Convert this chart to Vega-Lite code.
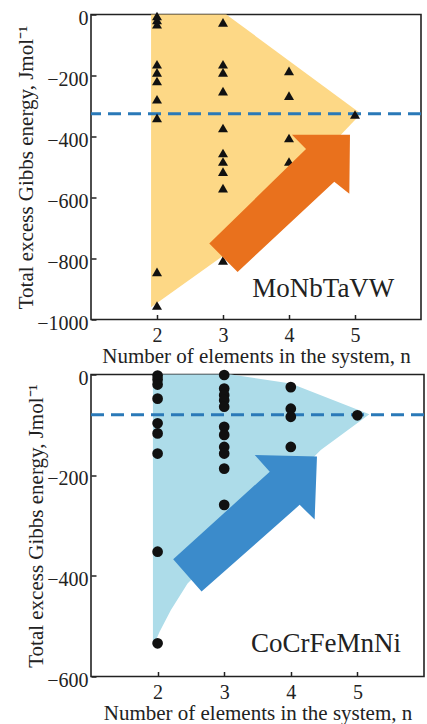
{
  "$schema": "https://vega.github.io/schema/vega-lite/v6.json",
  "padding": {"left": 14, "top": 6.5, "right": 0, "bottom": 0},
  "spacing": -1,
  "datasets": {
    "topPts": [
      {"n": 2, "e": -5}, {"n": 2, "e": -18}, {"n": 2, "e": -32},
      {"n": 2, "e": -163}, {"n": 2, "e": -190}, {"n": 2, "e": -218},
      {"n": 2, "e": -278}, {"n": 2, "e": -339}, {"n": 2, "e": -844}, {"n": 2, "e": -954},
      {"n": 3, "e": -26}, {"n": 3, "e": -163}, {"n": 3, "e": -190}, {"n": 3, "e": -251},
      {"n": 3, "e": -372}, {"n": 3, "e": -454}, {"n": 3, "e": -482}, {"n": 3, "e": -515},
      {"n": 3, "e": -569}, {"n": 3, "e": -806},
      {"n": 4, "e": -185}, {"n": 4, "e": -266}, {"n": 4, "e": -405}, {"n": 4, "e": -482},
      {"n": 5, "e": -328}
    ],
    "botPts": [
      {"n": 2, "e": -2}, {"n": 2, "e": -10}, {"n": 2, "e": -20}, {"n": 2, "e": -48},
      {"n": 2, "e": -97}, {"n": 2, "e": -117}, {"n": 2, "e": -157}, {"n": 2, "e": -352}, {"n": 2, "e": -534},
      {"n": 3, "e": -1}, {"n": 3, "e": -28}, {"n": 3, "e": -41}, {"n": 3, "e": -51}, {"n": 3, "e": -64},
      {"n": 3, "e": -104}, {"n": 3, "e": -120}, {"n": 3, "e": -144}, {"n": 3, "e": -157},
      {"n": 3, "e": -187}, {"n": 3, "e": -259},
      {"n": 4, "e": -25}, {"n": 4, "e": -68}, {"n": 4, "e": -84}, {"n": 4, "e": -144},
      {"n": 5, "e": -81}
    ],
    "topRegion": [
      {"o": 1, "n": 1.91, "e": 0}, {"o": 2, "n": 3.05, "e": 0}, {"o": 3, "n": 5.09, "e": -325},
      {"o": 4, "n": 3.1, "e": -776}, {"o": 5, "n": 1.91, "e": -960}
    ],
    "botRegion": [
      {"o": 1, "n": 1.93, "e": 0}, {"o": 2, "n": 3.1, "e": 0}, {"o": 3, "n": 4.0, "e": -18},
      {"o": 4, "n": 5.18, "e": -79}, {"o": 5, "n": 4.45, "e": -150}, {"o": 6, "n": 2.45, "e": -415},
      {"o": 7, "n": 2.2, "e": -468}, {"o": 8, "n": 2.03, "e": -511}, {"o": 9, "n": 1.95, "e": -535},
      {"o": 10, "n": 1.93, "e": -535}
    ],
    "topArrow": [
      {"o": 1, "n": 2.792, "e": -751}, {"o": 2, "n": 4.258, "e": -441}, {"o": 3, "n": 4.045, "e": -394},
      {"o": 4, "n": 4.924, "e": -394}, {"o": 5, "n": 4.914, "e": -588}, {"o": 6, "n": 4.686, "e": -548},
      {"o": 7, "n": 3.221, "e": -844}
    ],
    "botArrow": [
      {"o": 1, "n": 2.234, "e": -367}, {"o": 2, "n": 3.684, "e": -193}, {"o": 3, "n": 3.459, "e": -160},
      {"o": 4, "n": 4.393, "e": -163}, {"o": 5, "n": 4.358, "e": -288}, {"o": 6, "n": 4.133, "e": -259},
      {"o": 7, "n": 2.66, "e": -431}
    ],
    "topRef": [{"e": -325}],
    "botRef": [{"e": -80}],
    "topLabel": [{"n": 4.52, "e": -927, "t": "MoNbTaVW"}],
    "botLabel": [{"n": 4.53, "e": -551, "t": "CoCrFeMnNi"}]
  },
  "vconcat": [
    {
      "width": 330,
      "height": 305,
      "layer": [
        {
          "data": {"name": "topRegion"},
          "mark": {"type": "line", "interpolate": "linear-closed", "filled": true, "fill": "#FDD886", "stroke": null, "strokeWidth": 0},
          "encoding": {
            "x": {"field": "n", "type": "quantitative"},
            "y": {"field": "e", "type": "quantitative"},
            "order": {"field": "o", "type": "quantitative"}
          }
        },
        {
          "data": {"name": "topRef"},
          "mark": {"type": "rule", "color": "#2A79B8", "strokeWidth": 3, "strokeDash": [13, 7]},
          "encoding": {"y": {"field": "e", "type": "quantitative"}}
        },
        {
          "data": {"name": "topPts"},
          "mark": {"type": "point", "shape": "triangle-up", "filled": true, "color": "#111", "size": 100, "opacity": 1},
          "encoding": {
            "x": {"field": "n", "type": "quantitative"},
            "y": {"field": "e", "type": "quantitative"}
          }
        },
        {
          "data": {"name": "topArrow"},
          "mark": {"type": "line", "interpolate": "linear-closed", "filled": true, "fill": "#E9711D", "stroke": null, "strokeWidth": 0},
          "encoding": {
            "x": {"field": "n", "type": "quantitative"},
            "y": {"field": "e", "type": "quantitative"},
            "order": {"field": "o", "type": "quantitative"}
          }
        },
        {
          "data": {"name": "topLabel"},
          "mark": {"type": "text", "font": "Liberation Serif", "fontSize": 27, "align": "center", "baseline": "alphabetic", "color": "#222"},
          "encoding": {
            "x": {"field": "n", "type": "quantitative"},
            "y": {"field": "e", "type": "quantitative"},
            "text": {"field": "t"}
          }
        }
      ],
      "encoding": {
        "x": {"type": "quantitative", "scale": {"domain": [1, 6], "nice": false},
              "axis": {"values": [2, 3, 4, 5], "format": "d", "labelFont": "Liberation Serif", "titleFont": "Liberation Serif", "title": "Number of elements  in the system,  n"}},
        "y": {"type": "quantitative", "scale": {"domain": [-1000, 0], "nice": false},
              "axis": {"values": [0, -200, -400, -600, -800, -1000], "format": "d", "labelFont": "Liberation Serif", "titleFont": "Liberation Serif", "title": "Total excess Gibbs energy, Jmol⁻¹"}}
      }
    },
    {
      "width": 333,
      "height": 302,
      "layer": [
        {
          "data": {"name": "botRegion"},
          "mark": {"type": "line", "interpolate": "linear-closed", "filled": true, "fill": "#ADDCE9", "stroke": null, "strokeWidth": 0},
          "encoding": {
            "x": {"field": "n", "type": "quantitative"},
            "y": {"field": "e", "type": "quantitative"},
            "order": {"field": "o", "type": "quantitative"}
          }
        },
        {
          "data": {"name": "botRef"},
          "mark": {"type": "rule", "color": "#2A79B8", "strokeWidth": 3, "strokeDash": [13, 7]},
          "encoding": {"y": {"field": "e", "type": "quantitative"}}
        },
        {
          "data": {"name": "botArrow"},
          "mark": {"type": "line", "interpolate": "linear-closed", "filled": true, "fill": "#3B8BCB", "stroke": null, "strokeWidth": 0},
          "encoding": {
            "x": {"field": "n", "type": "quantitative"},
            "y": {"field": "e", "type": "quantitative"},
            "order": {"field": "o", "type": "quantitative"}
          }
        },
        {
          "data": {"name": "botPts"},
          "mark": {"type": "point", "shape": "circle", "filled": true, "color": "#111", "size": 115, "opacity": 1},
          "encoding": {
            "x": {"field": "n", "type": "quantitative"},
            "y": {"field": "e", "type": "quantitative"}
          }
        },
        {
          "data": {"name": "botLabel"},
          "mark": {"type": "text", "font": "Liberation Serif", "fontSize": 27, "align": "center", "baseline": "alphabetic", "color": "#222"},
          "encoding": {
            "x": {"field": "n", "type": "quantitative"},
            "y": {"field": "e", "type": "quantitative"},
            "text": {"field": "t"}
          }
        }
      ],
      "encoding": {
        "x": {"type": "quantitative", "scale": {"domain": [1, 6], "nice": false},
              "axis": {"values": [2, 3, 4, 5], "format": "d", "labelFont": "Liberation Serif", "titleFont": "Liberation Serif", "title": "Number of elements  in the system,  n"}},
        "y": {"type": "quantitative", "scale": {"domain": [-600, 0], "nice": false},
              "axis": {"values": [0, -200, -400, -600], "format": "d", "labelFont": "Liberation Serif", "titleFont": "Liberation Serif", "title": "Total excess Gibbs energy, Jmol⁻¹"}}
      }
    }
  ],
  "config": {
    "font": "Liberation Serif",
    "view": {"stroke": "#222", "strokeWidth": 1.6},
    "axis": {
      "grid": false,
      "domain": false,
      "labelFontSize": 20,
      "labelColor": "#222",
      "titleFontSize": 21,
      "titleFontWeight": "normal",
      "titleColor": "#222",
      "tickColor": "#222",
      "tickWidth": 1.5,
      "tickSize": -5,
      "labelPadding": 8
    },
    "axisX": {"labelFlush": false, "labelPadding": 11, "titlePadding": 0},
    "axisY": {"titlePadding": 0, "labelOffset": 3.5}
  }
}
